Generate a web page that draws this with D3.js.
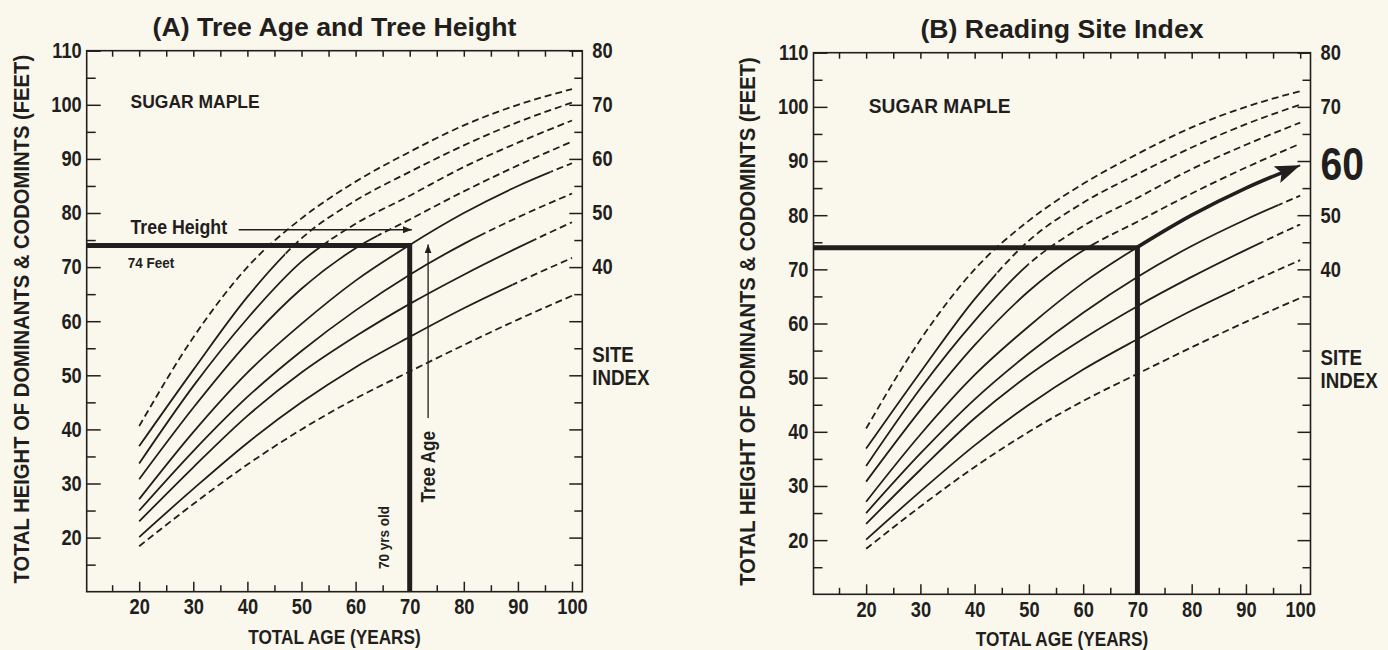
<!DOCTYPE html>
<html>
<head>
<meta charset="utf-8">
<script src="https://cdn.jsdelivr.net/npm/d3@7"></script>
<style>
  body { margin: 0; background: #faf8ec; }
  svg { display: block; }
</style>
</head>
<body>
<script>
'use strict';

const ages = [20, 30, 40, 50, 60, 70, 80, 90, 100];

// total height (feet) along each site-index curve, top curve first
const curve1 = [40.6, 57.0, 70.0, 79.0, 85.8, 91.3, 96.2, 100.0, 102.9];
const curve2 = [36.9, 51.0, 64.5, 75.3, 82.3, 87.6, 92.5, 96.8, 100.4];
const curve3 = [33.7, 48.0, 60.5, 71.0, 78.0, 83.2, 88.5, 93.0, 97.1];
const curve4 = [30.8, 44.0, 56.0, 66.0, 73.5, 78.8, 84.0, 88.8, 93.2];
const curve5 = [27.1, 39.5, 50.5, 59.5, 67.5, 74.1, 80.0, 85.0, 89.2];
const curve6 = [25.0, 36.0, 46.0, 54.5, 62.0, 68.6, 74.3, 79.2, 83.6];
const curve7 = [23.0, 33.0, 42.5, 50.5, 57.2, 63.2, 68.6, 73.6, 78.3];
const curve8 = [20.1, 29.0, 37.5, 45.0, 51.5, 57.1, 62.4, 67.2, 71.7];
const curve9 = [18.4, 26.2, 33.5, 40.0, 45.7, 50.7, 55.6, 60.3, 64.7];

// age up to which each curve is printed solid (0 = dashed the whole way)
const solidToA = [0, 47, 55, 64, 96, 83, 93, 89, 0];
const solidToB = [0, 44, 50, 62, 100, 96, 93, 88, 0];

// tick values
const ageTicks = [20, 30, 40, 50, 60, 70, 80, 90, 100];
const ageMinor = [15, 25, 35, 45, 55, 65, 75, 85, 95];
const heightTicks = [20, 30, 40, 50, 60, 70, 80, 90, 100, 110];
const heightMinor = [15, 25, 35, 45, 55, 65, 75, 85, 95, 105];
const siteTicks = [40, 50, 60, 70, 80];
const siteOffset = 30; // site index label = height label - 30

// the worked example
const treeAge = 70;
const treeHeight = 74;
const readSite = 60;

(function() {

  const width = 1388, height = 650;
  const ink = '#221e1d';
  const font = '"Liberation Sans", Arial, Helvetica, sans-serif';
  const curves = [curve1, curve2, curve3, curve4, curve5, curve6, curve7, curve8, curve9];

  const panels = [
    { id: 'A', title: '(A) Tree Age and Tree Height', left: 86.7, right: 582.3, top: 50.7, bottom: 591.7,
      solidTo: solidToA, maple: [18.4, 99.4], mapleSize: 18.6, axisTitleX: 21, worked: true },
    { id: 'B', title: '(B) Reading Site Index', left: 813.5, right: 1310.5, top: 52.7, bottom: 594.3,
      solidTo: solidToB, maple: [20.5, 98.9], mapleSize: 20.4, axisTitleX: 747.5, worked: false }
  ];

  window.onload = function() {
    const svg = d3.select('body').append('svg')
      .attr('width', width)
      .attr('height', height)
      .style('color', ink)
      .style('font-family', font)
      .style('font-weight', 'bold');

    const defs = svg.append('defs');
    makeMarkers(defs);

    panels.forEach((p) => drawPanel(svg, defs, p));
  };

  // the print uses a condensed face: narrow a text sideways, keeping its anchor
  function squeeze(sel, s) {
    sel.each(function() {
      const t = d3.select(this);
      const x = +t.attr('x') || 0;
      t.attr('x', x / s);
      t.attr('transform', (t.attr('transform') || '') + ` scale(${s},1)`);
    });
    return sel;
  }

  // arrow heads
  function makeMarkers(defs) {
    defs.append('marker')
      .attr('id', 'thin')
      .attr('markerUnits', 'userSpaceOnUse')
      .attr('viewBox', '0 0 9 7')
      .attr('markerWidth', 9).attr('markerHeight', 7)
      .attr('refX', 9).attr('refY', 3.5)
      .attr('orient', 'auto')
      .append('path').attr('d', 'M0,0L9,3.5L0,7z').attr('fill', ink);

    defs.append('marker')
      .attr('id', 'big')
      .attr('markerUnits', 'userSpaceOnUse')
      .attr('viewBox', '0 0 25 18')
      .attr('markerWidth', 25).attr('markerHeight', 18)
      .attr('refX', 25).attr('refY', 9)
      .attr('orient', 'auto')
      .append('path').attr('d', 'M0,0L25,9L0,18L5,9z').attr('fill', ink);
  }

  function drawPanel(svg, defs, p) {
    const g = svg.append('g');

    const x = d3.scaleLinear().domain([10.3, 101.9]).range([p.left, p.right]);
    const y = d3.scaleLinear().domain([10, 110]).range([p.bottom, p.top]);

    // title
    g.append('text')
      .attr('x', (p.left + p.right) / 2)
      .attr('y', p.top - 15)
      .attr('text-anchor', 'middle')
      .attr('fill', ink)
      .style('font-size', '26.7px')
      .text(p.title);

    drawAxes(g, p, x, y);

    // site index curves: solid part and dashed part clipped apart
    const line = d3.line()
      .x((d) => x(d[0]))
      .y((d) => y(d[1]))
      .curve(d3.curveMonotoneX);

    curves.forEach((h, i) => {
      const pts = ages.map((a, j) => [a, h[j]]);
      const cut = p.solidTo[i] ? x(p.solidTo[i]) : p.left;

      defs.append('clipPath').attr('id', 'solid' + p.id + i)
        .append('rect')
        .attr('x', p.left).attr('y', p.top)
        .attr('width', cut - p.left).attr('height', p.bottom - p.top);
      defs.append('clipPath').attr('id', 'dash' + p.id + i)
        .append('rect')
        .attr('x', cut).attr('y', p.top)
        .attr('width', p.right - cut).attr('height', p.bottom - p.top);

      g.append('path')
        .attr('d', line(pts))
        .attr('fill', 'none')
        .attr('stroke', ink)
        .attr('stroke-width', 1.8)
        .attr('clip-path', `url(#solid${p.id}${i})`);

      g.append('path')
        .attr('d', line(pts))
        .attr('fill', 'none')
        .attr('stroke', ink)
        .attr('stroke-width', 1.8)
        .attr('stroke-dasharray', '7,4')
        .attr('clip-path', `url(#dash${p.id}${i})`);
    });

    // SUGAR MAPLE
    squeeze(g.append('text')
      .attr('x', x(p.maple[0]))
      .attr('y', y(p.maple[1]))
      .attr('fill', ink)
      .style('font-size', p.mapleSize + 'px')
      .text('SUGAR MAPLE'), 0.94);

    // tree height / tree age reading lines
    g.append('path')
      .attr('d', `M${p.left},${y(treeHeight)}H${x(treeAge)}V${p.bottom}`)
      .attr('fill', 'none')
      .attr('stroke', ink)
      .attr('stroke-width', 5);

    if (p.worked) {
      drawWorked(g, x, y);
    } else {
      // follow the curve from the reading point to the site index
      const idx = ages.indexOf(treeAge);
      const pts = ages.slice(idx).map((a, j) => [a, curve5[idx + j]]);
      const arrow = g.append('path')
        .attr('d', line(pts))
        .attr('fill', 'none')
        .attr('stroke', ink)
        .attr('stroke-width', 3.6)
        .attr('marker-end', 'url(#big)');
      const len = arrow.node().getTotalLength();
      arrow.attr('stroke-dasharray', `${len - 14},${len}`);
    }
  }

  // notes for panel A
  function drawWorked(g, x, y) {
    squeeze(g.append('text')
      .attr('x', x(18.4)).attr('y', y(76.1))
      .attr('fill', ink)
      .style('font-size', '19.5px')
      .text('Tree Height'), 0.91);

    g.append('line')
      .attr('x1', x(38.4)).attr('x2', x(70.4))
      .attr('y1', y(76.9)).attr('y2', y(76.9))
      .attr('stroke', ink)
      .attr('stroke-width', 1.3)
      .attr('marker-end', 'url(#thin)');

    squeeze(g.append('text')
      .attr('x', x(17.9)).attr('y', y(69.8))
      .attr('fill', ink)
      .style('font-size', '14.5px')
      .text(treeHeight + ' Feet'), 0.93);

    g.append('line')
      .attr('x1', x(73.4)).attr('x2', x(73.4))
      .attr('y1', y(42.1)).attr('y2', y(74.2))
      .attr('stroke', ink)
      .attr('stroke-width', 1.3)
      .attr('marker-end', 'url(#thin)');

    squeeze(g.append('text')
      .attr('transform', `translate(${x(73.4)},${y(33.1)})rotate(-90)`)
      .attr('text-anchor', 'middle')
      .attr('dominant-baseline', 'central')
      .attr('fill', ink)
      .style('font-size', '19.5px')
      .text('Tree Age'), 0.875);

    squeeze(g.append('text')
      .attr('transform', `translate(${x(65.2)},${y(20)})rotate(-90)`)
      .attr('text-anchor', 'middle')
      .attr('dominant-baseline', 'central')
      .attr('fill', ink)
      .style('font-size', '15px')
      .text(treeAge + ' yrs old'), 0.9);
  }

  // frame, ticks and axis labels
  function drawAxes(g, p, x, y) {
    const site = d3.scaleLinear()
      .domain(y.domain().map((v) => v - siteOffset))
      .range(y.range());

    const axes = [
      ['bottom', `translate(0,${p.bottom})`, d3.axisBottom(x).tickValues(ageTicks).tickSize(-10).tickPadding(7)],
      ['bottom-minor', `translate(0,${p.bottom})`, d3.axisBottom(x).tickValues(ageMinor).tickSize(-6.5).tickFormat('')],
      ['top', `translate(0,${p.top})`, d3.axisTop(x).tickValues(ageMinor.concat(ageTicks)).tickSize(-6).tickFormat('')],
      ['left', `translate(${p.left},0)`, d3.axisLeft(y).tickValues(heightTicks).tickSize(-14).tickPadding(5)],
      ['left-minor', `translate(${p.left},0)`, d3.axisLeft(y).tickValues(heightMinor).tickSize(-9).tickFormat('')],
      ['site', `translate(${p.right},0)`, d3.axisRight(site).tickValues(siteTicks).tickSize(-13).tickPadding(10)],
      ['right', `translate(${p.right},0)`, d3.axisRight(y).tickValues(heightTicks.filter((v) => v < 70)).tickSize(-13).tickFormat('')],
      ['right-minor', `translate(${p.right},0)`, d3.axisRight(y).tickValues(heightMinor).tickSize(-8).tickFormat('')]
    ];

    axes.forEach(([cls, tr, axis]) => {
      const a = g.append('g')
        .attr('class', cls)
        .attr('transform', tr)
        .call(axis)
        .attr('font-family', font)
        .attr('font-size', 21.5)
        .attr('font-weight', 'bold');
      a.select('.domain').remove();
      a.selectAll('.tick line').attr('stroke-width', 1.5);
      squeeze(a.selectAll('.tick text'), 0.85);
    });

    // the big "60" on the site index scale of panel B
    if (!p.worked) {
      g.select('.site').selectAll('.tick text')
        .filter((d) => d === readSite)
        .attr('dy', '0.4em')
        .style('font-size', '46px');
    }

    g.append('rect')
      .attr('x', p.left).attr('y', p.top)
      .attr('width', p.right - p.left).attr('height', p.bottom - p.top)
      .attr('fill', 'none')
      .attr('stroke', ink)
      .attr('stroke-width', 1.6);

    // SITE INDEX
    squeeze(g.append('text')
      .attr('x', p.right + 10).attr('y', y(55) + 14)
      .attr('fill', ink)
      .style('font-size', '21.5px')
      .text('SITE'), 0.87);
    squeeze(g.append('text')
      .attr('x', p.right + 10).attr('y', y(50) + 10)
      .attr('fill', ink)
      .style('font-size', '21.5px')
      .text('INDEX'), 0.87);

    // axis titles
    squeeze(g.append('text')
      .attr('x', (p.left + p.right) / 2)
      .attr('y', p.bottom + 52)
      .attr('text-anchor', 'middle')
      .attr('fill', ink)
      .style('font-size', '20.5px')
      .text('TOTAL AGE (YEARS)'), 0.84);

    squeeze(g.append('text')
      .attr('transform', `translate(${p.axisTitleX},${(p.top + p.bottom) / 2 - 2})rotate(-90)`)
      .attr('text-anchor', 'middle')
      .attr('dominant-baseline', 'central')
      .attr('fill', ink)
      .style('font-size', '21.5px')
      .text('TOTAL HEIGHT OF DOMINANTS & CODOMINTS (FEET)'), 0.94);
  }

})();
</script>
</body>
</html>
